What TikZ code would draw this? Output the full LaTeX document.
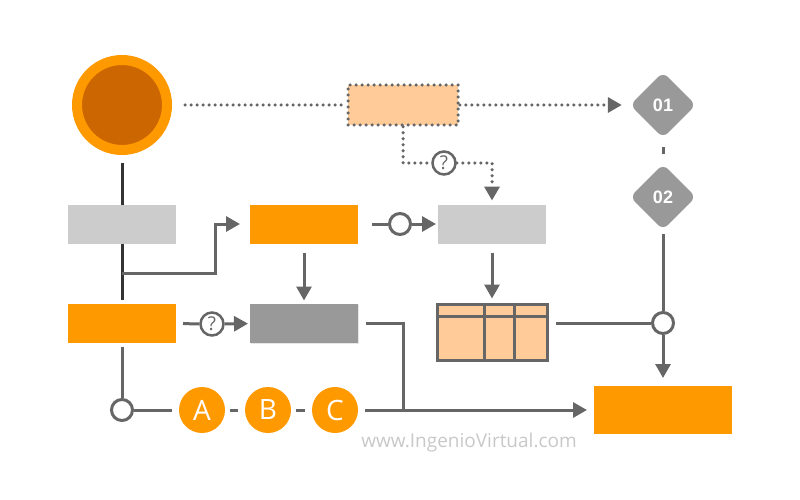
\documentclass[tikz,border=0pt]{standalone}
\usepackage{fontspec}
\setmainfont{Open Sans}
\newfontfamily\numfont{Liberation Sans}
\usetikzlibrary{arrows.meta,shapes.geometric,shadows}

\definecolor{orng}{HTML}{FF9900}
\definecolor{dkorng}{HTML}{CC6600}
\definecolor{peach}{HTML}{FFCC99}
\definecolor{lgray}{HTML}{CCCCCC}
\definecolor{mgray}{HTML}{999999}
\definecolor{linegray}{HTML}{666666}
\definecolor{darkline}{HTML}{333333}
\definecolor{wmark}{HTML}{C8C8C8}

\tikzset{
  conn/.style={draw=linegray, line width=3pt},
  arr/.style={conn, -{Triangle[length=14pt,width=15pt]}},
  dots/.style={draw=linegray, line width=3.5pt, line cap=round, dash pattern=on 0pt off 6pt},
  darr/.style={dots, -{Triangle[length=14pt,width=15pt]}},
  box/.style={rectangle, minimum width=108pt, minimum height=39pt, inner sep=0pt, outer sep=0pt},
  junc/.style={circle, draw=linegray, fill=white, line width=3pt, minimum size=21pt, inner sep=0pt},
  quest/.style={junc, minimum size=23pt, line width=2.5pt, text=linegray, font=\fontsize{19}{19}\selectfont},
  letter/.style={circle, fill=orng, minimum size=46pt, inner sep=0pt, text=white, font=\fontsize{28}{28}\selectfont},
  rhomb/.style={diamond, fill=mgray, minimum size=66pt, inner sep=0pt, rounded corners=7pt, text=white, font=\numfont\bfseries\fontsize{18}{18}\selectfont},
}

\begin{document}
\begin{tikzpicture}[x=1pt,y=-1pt]

      \useasboundingbox (0,0) rectangle (800,500);

      \node[circle, fill=dkorng, draw=orng, line width=10pt, minimum size=90pt] (start) at (122,105) {};
      \node[dots, rectangle, fill=peach, minimum width=110pt, minimum height=40pt] (plan) at (403,105) {};

      \begin{scope}[every node/.style={rhomb}]
        \node (d1) at (663,105) {01};
        \node (d2) at (663,197) {02};
      \end{scope}

      \begin{scope}[every node/.style={box}]
        \node[fill=lgray] (b1) at (122,224) {};
        \node[fill=orng]  (b2) at (304,224) {};
        \node[fill=lgray] (b3) at (492,224) {};
        \node[fill=orng]  (b4) at (122,323) {};
        \node[fill=mgray, drop shadow={opacity=.2, shadow xshift=1pt, shadow yshift=-1.5pt}] (b5) at (304,323) {};
        \node[fill=orng, minimum width=138pt, minimum height=48pt] (b6) at (663,410) {};
      \end{scope}

      \node[rectangle, draw=linegray, line width=3pt, fill=peach, minimum width=110pt, minimum height=56pt] (tbl) at (492,332) {};
      \draw[conn] ([yshift=-14pt]tbl.north west) -- ([yshift=-14pt]tbl.north east);
      \draw[conn] ([xshift=49pt]tbl.north west) -- ([xshift=49pt]tbl.south west);
      \draw[conn] ([xshift=79pt]tbl.north west) -- ([xshift=79pt]tbl.south west);

      \begin{scope}[every node/.style={quest}]
        \node (q1) at (444,163) {?};
        \node (q2) at (212,324) {?};
      \end{scope}

      \begin{scope}[every node/.style={junc}]
        \node (j1) at (400,224) {};
        \node (j2) at (663,323) {};
        \node (j3) at (122,410) {};
      \end{scope}

      \begin{scope}[every node/.style={letter}]
        \node (la) at (202,410) {A};
        \node (lb) at (268,410) {B};
        \node (lc) at (335,410) {C};
      \end{scope}

      \coordinate (k1) at (122,273);
      \coordinate (k2) at (215,224);
      \coordinate (k3) at (403,410);

      \draw[dots, shorten <=13pt] (start) -- (plan);
      \draw[darr, shorten >=8pt] (plan) -- (d1);
      \draw[dots] (plan.south) |- (q1);
      \draw[darr, shorten >=4pt] (q1) -| (b3.north);
      \draw[conn, shorten <=9pt, shorten >=10pt] (d1) -- (d2);
      \draw[conn, shorten <=4pt] (d2) -- (j2);
      \draw[arr, shorten >=8pt] (j2) -- (b6);
      \draw[conn, shorten <=7pt] (tbl.east |- j2) -- (j2);

      \draw[conn, draw=darkline, shorten <=8pt] (start) -- (b1);
      \draw[conn, draw=darkline, shorten >=4pt] (b1) -- (b4);
      \draw[arr, shorten >=10pt] (k1) -| (k2) -- (b2);
      \draw[conn, shorten <=14pt] (b2) -- (j1);
      \draw[arr, shorten >=2pt] (j1) -- (b3);
      \draw[arr, shorten <=9pt, shorten >=3pt] (b2) -- (b5);
      \draw[arr, shorten <=9pt, shorten >=4pt] (b3) -- (tbl);

      \draw[conn, shorten <=7pt] (b4) -- (q2);
      \draw[arr, shorten >=2pt] (q2) -- (b5);
      \draw[conn, shorten <=8pt] (b5) -| (k3);
      \draw[conn, shorten <=4pt] (b4) -- (j3);
      \draw[conn, shorten >=7pt] (j3) -- (la);
      \draw[conn, shorten <=5pt, shorten >=7pt] (la) -- (lb);
      \draw[conn, shorten <=5pt, shorten >=7pt] (lb) -- (lc);
      \draw[arr, shorten <=7pt, shorten >=7pt] (lc) -- (b6);

      \node[text=wmark, font=\fontsize{19}{19}\selectfont] (site) at (469,443) {www.IngenioVirtual.com};

    \end{tikzpicture}
\end{document}
